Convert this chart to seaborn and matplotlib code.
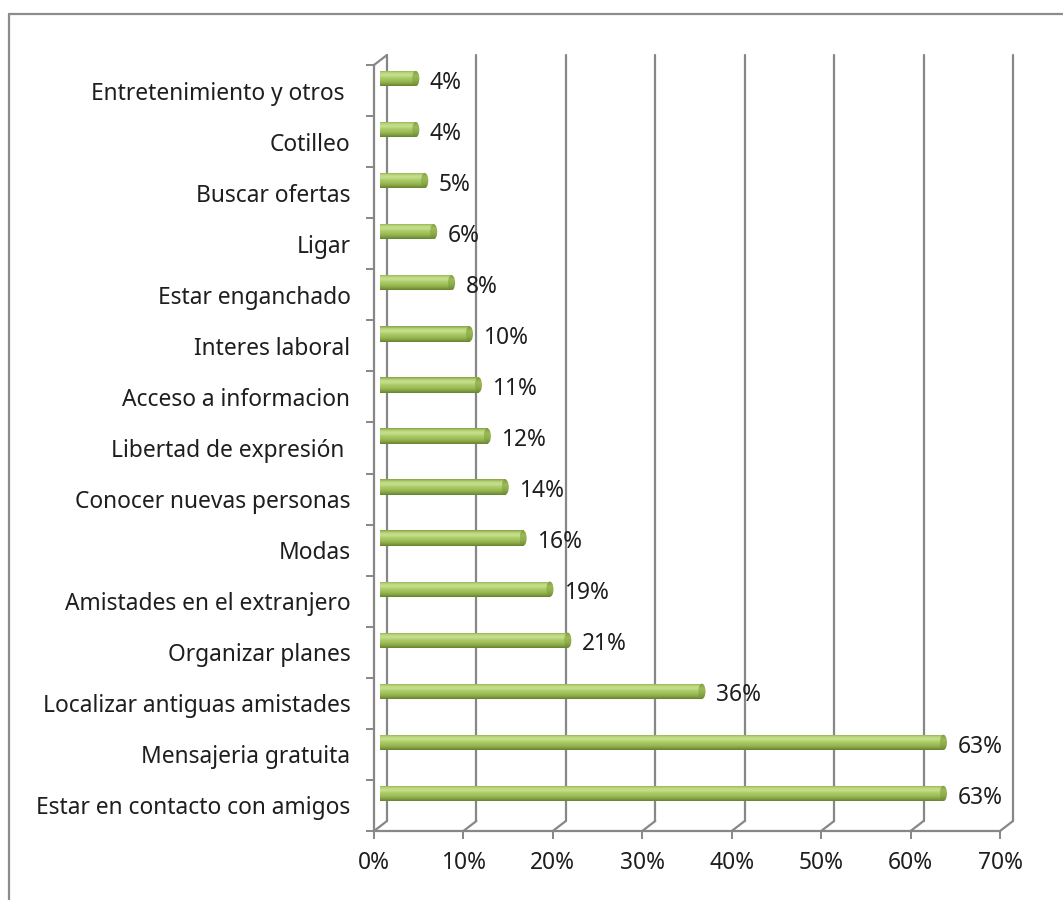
import numpy as np
import pandas as pd
import matplotlib
matplotlib.use("Agg")
import matplotlib.pyplot as plt
import matplotlib.transforms as mtransforms
from matplotlib.colors import LinearSegmentedColormap
from matplotlib.patches import Ellipse, ConnectionPatch
from matplotlib.lines import Line2D
import seaborn as sns

# Reasons for using social networks (share of respondents, %), listed top to bottom
categories = [
    "Entretenimiento y otros ",
    "Cotilleo",
    "Buscar ofertas",
    "Ligar",
    "Estar enganchado",
    "Interes laboral",
    "Acceso a informacion",
    "Libertad de expresión ",
    "Conocer nuevas personas",
    "Modas",
    "Amistades en el extranjero",
    "Organizar planes",
    "Localizar antiguas amistades",
    "Mensajeria gratuita",
    "Estar en contacto con amigos",
]
shares = [4, 4, 5, 6, 8, 10, 11, 12, 14, 16, 19, 21, 36, 63, 63]
x_ticks = [0, 10, 20, 30, 40, 50, 60, 70]
x_tick_labels = [f"{t}%" for t in x_ticks]

sns.set_theme(style="white")
plt.rcParams["font.family"] = ["Noto Sans", "DejaVu Sans"]

W, H = 1063, 900
DPI = 100
fig = plt.figure(figsize=(W / DPI, H / DPI), dpi=DPI)
fig.patch.set_facecolor("white")

FRAME = "#878787"
TEXT = "#1e1e1e"
FS = 16.4

# front plane of the 3-D box
ax = fig.add_axes([374 / W, 1 - 831 / H, (1000 - 374) / W, (831 - 65) / H])
ax.set_facecolor("none")

df = pd.DataFrame({"motivo": categories, "porcentaje": shares})
bar_h = 0.3
sns.barplot(data=df, x="porcentaje", y="motivo", orient="h", width=bar_h,
            color="#9BBB59", saturation=1, ax=ax, zorder=3)

ax.set_xlim(0, 70)
ax.set_ylim(len(categories) - 0.5, -0.5)

# depth offsets: back wall and the bars' mid-depth
back = mtransforms.ScaledTranslation(13 / DPI, 10 / DPI, fig.dpi_scale_trans)
mid = mtransforms.ScaledTranslation(6 / DPI, 12 / DPI, fig.dpi_scale_trans)
bar_trans = ax.transData + mid

# cylinder shading, top edge to bottom edge
cyl = LinearSegmentedColormap.from_list(
    "cyl", ["#83a044", "#bcd87e", "#c6e08e", "#acca68", "#9ebe59", "#88a747", "#64802d"])
grad = np.linspace(0, 1, 64).reshape(-1, 1)
cap_cmap = LinearSegmentedColormap.from_list(
    "cap", ["#7d9a3d", "#9cbb57", "#8cab4a", "#6c8832"])

for i, patch in enumerate(list(ax.patches)):
    patch.set_transform(bar_trans)
    patch.set_edgecolor("none")
    x0, y0 = patch.get_x(), patch.get_y()
    w, h = patch.get_width(), patch.get_height()
    im = ax.imshow(grad, cmap=cyl, aspect="auto", origin="upper",
                   extent=(x0, x0 + w, y0 + h, y0), transform=bar_trans,
                   interpolation="bicubic", zorder=4)
    im.set_clip_path(patch)
    cap = Ellipse((x0 + w, y0 + h / 2), width=0.8, height=h,
                  facecolor="none", edgecolor="none", transform=bar_trans, zorder=5)
    ax.add_patch(cap)
    cim = ax.imshow(grad, cmap=cap_cmap, aspect="auto", origin="upper",
                    extent=(x0 + w - 0.4, x0 + w + 0.4, y0 + h, y0),
                    transform=bar_trans, interpolation="bicubic", zorder=5)
    cim.set_clip_path(cap)
    ax.annotate(f"{shares[i]}%", xy=(x0 + w, y0 + h / 2), xycoords=bar_trans,
                xytext=(10, -3), textcoords="offset points",
                ha="left", va="center", fontsize=FS, color=TEXT, zorder=6)

ax.set_xlim(0, 70)
ax.set_ylim(len(categories) - 0.5, -0.5)

# back wall gridlines and the slanted edges joining them to the front axis
xax = ax.get_xaxis_transform()
for t in x_ticks:
    ax.add_line(Line2D([t, t], [0, 1], transform=xax + back,
                       color=FRAME, lw=1.6, zorder=1, clip_on=False))
    fig.add_artist(ConnectionPatch(xyA=(t, 0), coordsA=xax,
                                   xyB=(t, 0), coordsB=xax + back,
                                   color=FRAME, lw=1.6, zorder=1))
fig.add_artist(ConnectionPatch(xyA=(0, 1), coordsA=xax,
                               xyB=(0, 1), coordsB=xax + back,
                               color=FRAME, lw=1.6, zorder=1))

# front axes
for side in ["top", "right"]:
    ax.spines[side].set_visible(False)
for side in ["left", "bottom"]:
    ax.spines[side].set_color(FRAME)
    ax.spines[side].set_linewidth(1.6)

ax.set_xticks(x_ticks)
ax.set_xticklabels(x_tick_labels)
ax.tick_params(axis="x", direction="out", length=5.5, width=1.4, color=FRAME,
               labelsize=FS, labelcolor=TEXT, pad=9, bottom=True)
ax.set_yticks(np.arange(len(categories)))
ax.set_yticklabels(categories)
ax.set_yticks(np.arange(-0.5, len(categories), 1), minor=True)
ax.tick_params(axis="y", which="major", length=0, pad=17,
               labelsize=FS, labelcolor=TEXT)
ax.tick_params(axis="y", which="minor", direction="out", length=5.5,
               width=1.4, color=FRAME, left=True)
ax.set_xlabel("")
ax.set_ylabel("")
ax.grid(False)

# chart area border
fig.add_artist(Line2D([9 / W, 9 / W], [0, 1 - 14 / H], transform=fig.transFigure,
                      color="#8c8c8c", lw=1.6))
fig.add_artist(Line2D([9 / W, 1], [1 - 14 / H, 1 - 14 / H], transform=fig.transFigure,
                      color="#8c8c8c", lw=1.6))

fig.savefig("out.png", dpi=DPI, facecolor="white")
